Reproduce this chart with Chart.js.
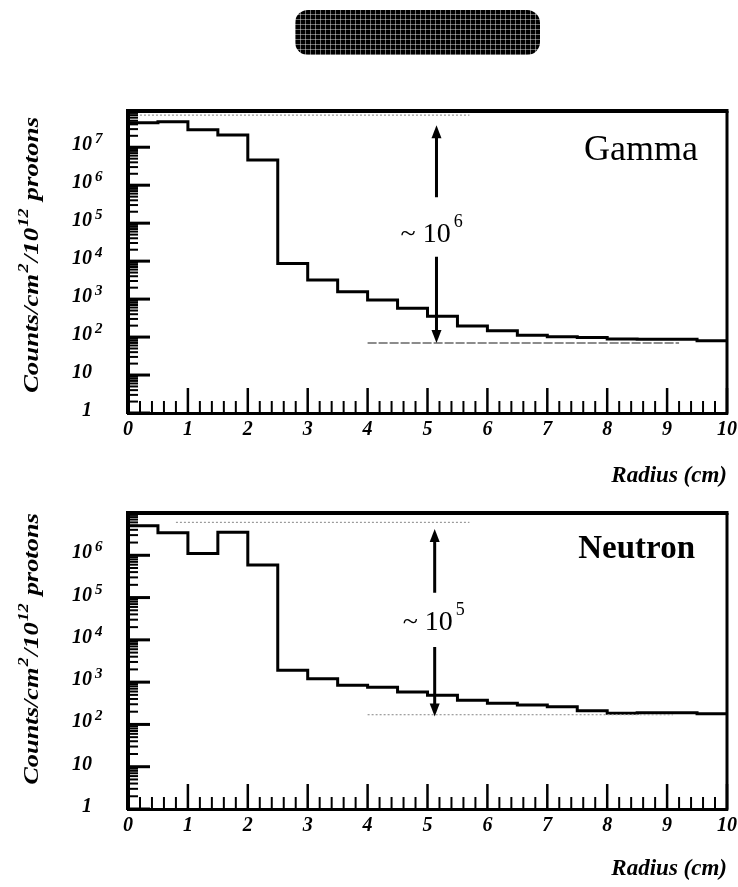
<!DOCTYPE html>
<html><head><meta charset="utf-8">
<script src="https://cdn.jsdelivr.net/npm/chart.js@4.4.0/dist/chart.umd.min.js"></script>
<style>
html,body{margin:0;padding:0;background:#fff;width:738px;height:887px;overflow:hidden;}
#title{position:absolute;left:295px;top:10px;width:245px;height:45px;border-radius:13px;background-color:#000;
background-image:repeating-linear-gradient(90deg,rgba(255,255,255,.42) 0 1px,transparent 1px 5px),repeating-linear-gradient(0deg,rgba(255,255,255,.42) 0 1px,transparent 1px 5px);}
.wrap{position:absolute;left:0;width:738px;}
canvas{display:block;}
</style></head><body>
<div id="title"></div>
<div class="wrap" style="top:80px;height:410px"><canvas id="c1" width="738" height="410"></canvas></div>
<div class="wrap" style="top:490px;height:397px"><canvas id="c2" width="738" height="397"></canvas></div>
<script>
// ---- data ----
const radiusEdges = [0,0.5,1,1.5,2,2.5,3,3.5,4,4.5,5,5.5,6,6.5,7,7.5,8,8.5,9,9.5,10];
const gammaCounts   = [4.4e7,4.7e7,2.9e7,2.1e7,4.6e6,8.7e3,3.2e3,1.55e3,940,570,355,195,146,112,102,98,89,87,87,80];
const neutronCounts = [5.0e6,3.4e6,1.1e6,3.5e6,5.9e5,1.9e3,1.2e3,840,760,585,490,375,315,290,263,212,185,190,190,178];
const radiusLabels = [0,1,2,3,4,5,6,7,8,9,10];
const gammaDecades = [0,1,2,3,4,5,6,7];
const neutronDecades = [0,1,2,3,4,5,6];
const gammaRange = [1, 9e7];
const neutronRange = [1, 1e7];
const gammaArrow   = {x:5.15, top:3.8e7, bottom:70,  gapTop:4.8e5, gapBottom:1.3e4, textY:3.2e4, text:'~ 10', exp:'6'};
const neutronArrow = {x:5.12, top:4.2e6, bottom:155, gapTop:1.3e5, gapBottom:6.8e3, textY:1.7e4, text:'~ 10', exp:'5'};
const gammaGuides   = [{x0:0.2,x1:5.7,y:7e7,style:'dot'},{x0:4.0,x1:9.2,y:70,style:'solid'}];
const neutronGuides = [{x0:0.8,x1:5.7,y:6e6,style:'dot'},{x0:4.0,x1:9.1,y:170,style:'dot'}];

const SERIF = '"Liberation Serif", "Times New Roman", serif';

function histPoints(edges, counts){
  const pts = [];
  counts.forEach((c,i)=>{ pts.push({x:edges[i], y:c}); pts.push({x:edges[i+1], y:c}); });
  return pts;
}
function isPow10(v){ const l=Math.log10(v); return Math.abs(l-Math.round(l))<1e-9; }

function makeDecor(cfg){
  return {
    id:'decor_'+cfg.name,
    afterDraw(chart){
      const ctx = chart.ctx, a = chart.chartArea, xs = chart.scales.x, ys = chart.scales.y;
      ctx.save();
      ctx.strokeStyle = '#000'; ctx.fillStyle = '#000'; ctx.lineCap = 'butt';
      // top & right frame
      ctx.lineWidth = 4; ctx.beginPath(); ctx.moveTo(a.left-2, a.top); ctx.lineTo(a.right+1.5, a.top); ctx.stroke();
      ctx.lineWidth = 3; ctx.beginPath(); ctx.moveTo(a.right, a.top); ctx.lineTo(a.right, a.bottom+1.5); ctx.stroke();
      // inward y ticks
      ys.ticks.forEach(t=>{
        const py = ys.getPixelForValue(t.value); const maj = isPow10(t.value);
        ctx.lineWidth = maj ? 3 : 2; const len = maj ? 22 : 10;
        ctx.beginPath(); ctx.moveTo(a.left, py); ctx.lineTo(a.left+len, py); ctx.stroke();
      });
      // inward x ticks
      xs.ticks.forEach(t=>{
        const px = xs.getPixelForValue(t.value); const maj = Math.abs(t.value-Math.round(t.value))<1e-6;
        ctx.lineWidth = maj ? 2.5 : 2; const len = maj ? 25 : 12;
        ctx.beginPath(); ctx.moveTo(px, a.bottom); ctx.lineTo(px, a.bottom-len); ctx.stroke();
      });
      // y tick labels with superscripts
      cfg.decades.forEach(k=>{
        const py = ys.getPixelForValue(Math.pow(10,k));
        const bx = a.left - 36;
        ctx.textBaseline = 'alphabetic';
        ctx.font = 'italic bold 20px ' + SERIF; ctx.textAlign = 'right';
        ctx.fillText(k===0 ? '1' : '10', bx, py+3);
        if (k>1){ ctx.font = 'italic bold 15px ' + SERIF; ctx.textAlign='left'; ctx.fillText(String(k), bx+3, py-4); }
      });
      // y axis title (rotated, with superscripts)
      const segs = [['Counts/cm',0],['2',1],['/10',0],['12',1],[' protons',0]];
      const fBase = 'italic bold 22px ' + SERIF, fSup = 'italic bold 15px ' + SERIF;
      let total = 0; segs.forEach(s=>{ ctx.font = s[1]?fSup:fBase; total += ctx.measureText(s[0]).width + (s[1]?2:0); });
      ctx.save();
      ctx.translate(a.left-90, (a.top+a.bottom)/2 - cfg.titleShift);
      ctx.rotate(-Math.PI/2); ctx.scale(cfg.titleStretch,1);
      ctx.textAlign='left'; ctx.textBaseline='alphabetic';
      let cx = -total/2;
      segs.forEach(s=>{ ctx.font = s[1]?fSup:fBase; if (s[1]) cx+=1; ctx.fillText(s[0], cx, s[1]?-10:0); cx += ctx.measureText(s[0]).width + (s[1]?1:0); });
      ctx.restore();
      // guide lines
      cfg.guides.forEach(g=>{
        ctx.save();
        if (g.style==='dot'){ ctx.strokeStyle='#9a9a9a'; ctx.lineWidth=1.2; ctx.setLineDash([2,2]); }
        else { ctx.strokeStyle='#8c8c8c'; ctx.lineWidth=2; ctx.setLineDash([9,2]); }
        const py = ys.getPixelForValue(g.y);
        ctx.beginPath(); ctx.moveTo(xs.getPixelForValue(g.x0), py); ctx.lineTo(xs.getPixelForValue(g.x1), py); ctx.stroke();
        ctx.restore();
      });
      // double arrow
      const ar = cfg.arrow;
      const ax = xs.getPixelForValue(ar.x), yt = ys.getPixelForValue(ar.top), yb = ys.getPixelForValue(ar.bottom);
      const gt = ys.getPixelForValue(ar.gapTop), gb = ys.getPixelForValue(ar.gapBottom);
      const hl = 13, hw = 5;
      ctx.lineWidth = 3;
      ctx.beginPath(); ctx.moveTo(ax, yt+hl-2); ctx.lineTo(ax, gt); ctx.moveTo(ax, gb); ctx.lineTo(ax, yb-hl+2); ctx.stroke();
      ctx.beginPath(); ctx.moveTo(ax, yt); ctx.lineTo(ax-hw, yt+hl); ctx.lineTo(ax+hw, yt+hl); ctx.closePath(); ctx.fill();
      ctx.beginPath(); ctx.moveTo(ax, yb); ctx.lineTo(ax-hw, yb-hl); ctx.lineTo(ax+hw, yb-hl); ctx.closePath(); ctx.fill();
      // arrow label
      const ty = ys.getPixelForValue(ar.textY);
      ctx.textAlign='left'; ctx.textBaseline='alphabetic';
      ctx.font = '28px ' + SERIF; ctx.fillText(ar.text, ax-cfg.textDx, ty);
      const w = ctx.measureText(ar.text).width;
      ctx.font = '18px ' + SERIF; ctx.fillText(ar.exp, ax-cfg.textDx+w+3, ty-15);
      // panel label
      ctx.font = cfg.labelFont; ctx.textAlign='right';
      ctx.fillText(cfg.label, a.right-cfg.labelDx, a.top+cfg.labelDy);
      ctx.restore();
    }
  };
}

function makeChart(id, cfg){
  const ctx = document.getElementById(id);
  return new Chart(ctx, {
    type:'line',
    data:{ datasets:[{ data: histPoints(radiusEdges, cfg.counts), borderColor:'#000', borderWidth:3,
      pointRadius:0, tension:0, fill:false, borderJoinStyle:'miter', borderCapStyle:'square' }] },
    options:{
      responsive:false, animation:false, events:[],
      layout:{ padding:{ top:cfg.padTop, right:11, left:0, bottom:0 } },
      plugins:{ legend:{display:false}, tooltip:{enabled:false} },
      scales:{
        x:{ type:'linear', min:0, max:10,
          afterBuildTicks(scale){
            const t=[]; radiusLabels.forEach(r=>{ t.push({value:r}); if (r<10) [0.2,0.4,0.6,0.8].forEach(f=>t.push({value:r+f})); });
            scale.ticks = t;
          },
          afterFit(scale){ scale.height = cfg.xHeight; scale.paddingLeft = 0; scale.paddingRight = 0; },
          grid:{ display:false, drawTicks:false },
          border:{ display:true, color:'#000', width:3 },
          ticks:{ autoSkip:false, maxRotation:0, minRotation:0, padding:5, color:'#000',
            font:{ family:SERIF, size:20, style:'italic', weight:'bold' },
            callback:(v)=> Math.abs(v-Math.round(v))<1e-6 ? String(Math.round(v)) : '' },
          title:{ display:true, text:'Radius (cm)', align:'end', color:'#000',
            font:{ family:SERIF, size:23, style:'italic', weight:'bold' }, padding:{top:0, bottom:cfg.titlePad} }
        },
        y:{ type:'logarithmic', min:cfg.range[0], max:cfg.range[1],
          afterBuildTicks(scale){
            const t=[]; cfg.decades.forEach(k=>{ for(let m=1;m<=9;m++){ const v=m*Math.pow(10,k); if (v>=scale.min*0.999 && v<=scale.max*1.001) t.push({value:v}); } });
            scale.ticks = t;
          },
          afterFit(scale){ scale.width = 128; },
          grid:{ display:false, drawTicks:false },
          border:{ display:true, color:'#000', width:4 },
          ticks:{ display:false }
        }
      }
    },
    plugins:[ makeDecor(cfg) ]
  });
}

makeChart('c1', { name:'gamma', counts:gammaCounts, range:gammaRange, decades:gammaDecades,
  padTop:31, xHeight:77, titlePad:0, arrow:gammaArrow, guides:gammaGuides, textDx:36,
  label:'Gamma', labelFont:'36px ' + SERIF, labelDx:29, labelDy:49, titleShift:7, titleStretch:1.22 });
makeChart('c2', { name:'neutron', counts:neutronCounts, range:neutronRange, decades:neutronDecades,
  padTop:23, xHeight:78, titlePad:4, arrow:neutronArrow, guides:neutronGuides, textDx:32,
  label:'Neutron', labelFont:'bold 33px ' + SERIF, labelDx:32, labelDy:45, titleShift:12, titleStretch:1.2 });
</script>
</body></html>
